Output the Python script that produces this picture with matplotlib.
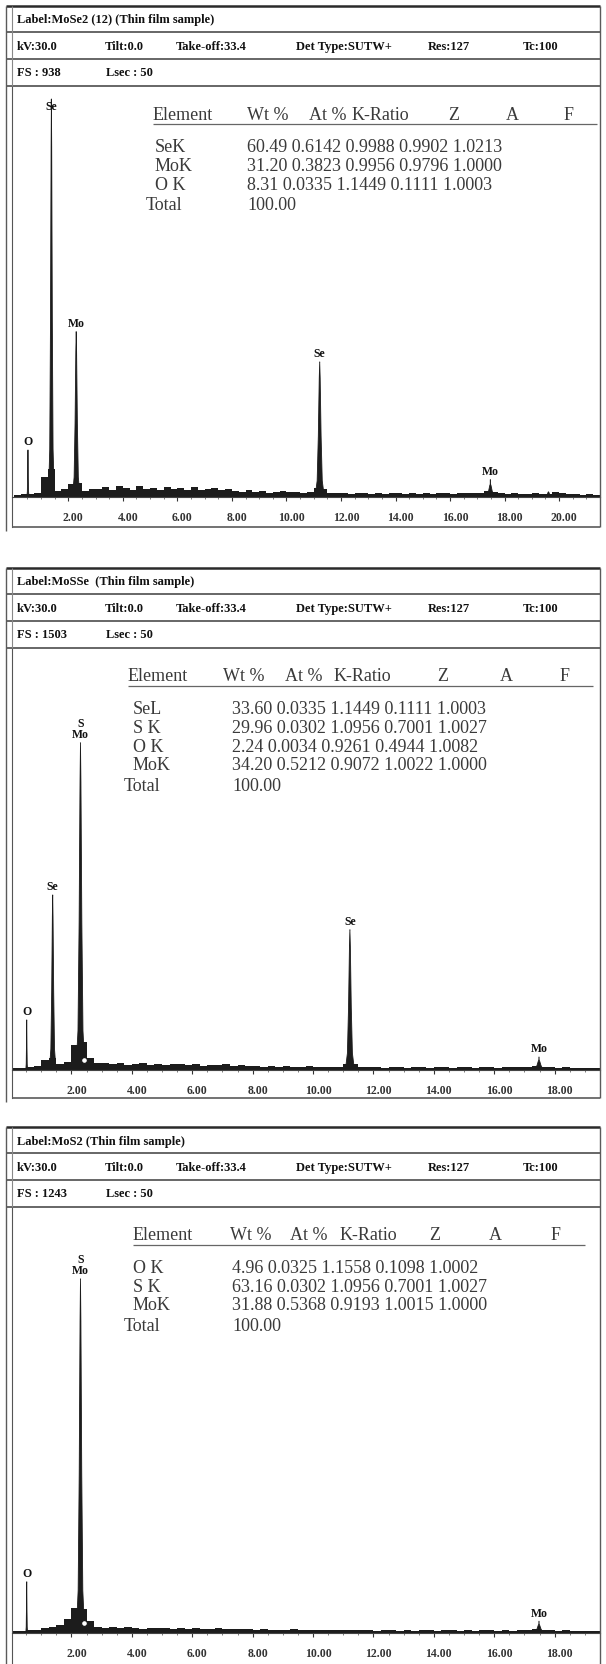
import numpy as np
import matplotlib
matplotlib.use('Agg')
import matplotlib.pyplot as plt
from matplotlib.lines import Line2D
from matplotlib.transforms import ScaledTranslation

W, H = 606, 1665
SERIF = ['Liberation Serif', 'DejaVu Serif']
INK = '#1c1c1c'
RULE = '#5a5a5a'
TABLE_INK = '#3a3a3a'
BIN = 0.25  # keV per background channel group

# acquisition settings shared by all three runs
settings_text = ['kV:30.0', 'Tilt:0.0', 'Take-off:33.4', 'Det Type:SUTW+', 'Res:127', 'Tc:100']
table_header = ['Element', 'Wt %', 'At %', 'K-Ratio', 'Z', 'A', 'F']

# ---------------- MoSe2 ----------------
mose2_title = 'Label:MoSe2 (12) (Thin film sample)'
mose2_fs = 938
mose2_bg = [5, 6, 7, 9, 45, 64, 14, 18, 30, 32, 14, 18,
            18, 22, 16, 24, 20, 17, 25, 19, 21, 15, 23, 18, 20, 16, 22, 17, 19, 21, 15, 18,
            14, 12, 15, 11, 13, 10, 12, 14, 11, 12, 10, 11,
            20, 18,
            9, 8, 10, 7, 9, 8, 6, 9, 7, 8, 10, 7, 8, 6, 9, 7, 8, 9, 6, 8, 9, 10,
            9, 14, 12, 8,
            7, 8, 6, 7, 8, 7, 6, 12, 9, 6, 7, 5, 6, 5]
mose2_peak_kev = [0.52, 1.38, 2.29, 11.22, 17.48, 19.61]
mose2_peak_counts = [107, 908, 377, 308, 30, 12]
mose2_peak_hw = [0.04, 0.11, 0.14, 0.17, 0.22, 0.15]
mose2_lab_text = ['O', 'Se', 'Mo', 'Se', 'Mo']
mose2_lab_kev = [0.52, 1.38, 2.29, 11.22, 17.48]
mose2_el = ['SeK', 'MoK', 'O K']
mose2_wt = [60.49, 31.20, 8.31]
mose2_at = [0.6142, 0.3823, 0.0335]
mose2_kr = [0.9988, 0.9956, 1.1449]
mose2_z = [0.9902, 0.9796, 0.1111]
mose2_a = [1.0213, 1.0000, 1.0003]

# ---------------- MoSSe ----------------
mosse_title = 'Label:MoSSe  (Thin film sample)'
mosse_fs = 1503
mosse_bg = [7, 8, 9, 14, 36, 43, 22, 29, 90, 100, 43, 25,
            24, 20, 26, 18, 22, 25, 19, 21, 17, 23, 20, 18, 21, 16, 19, 17, 20, 15, 18, 16,
            14, 12, 15, 11, 13, 12, 10, 13, 11, 12, 10, 11,
            22, 20,
            10, 9, 11, 8, 10, 9, 8, 10, 9, 8, 11, 9, 8, 10, 9, 8, 10, 9, 8, 9, 10, 9,
            10, 14, 12, 9, 8, 9, 8, 7, 8, 7, 8]
mosse_peak_kev = [0.52, 1.38, 2.30, 11.22, 17.48]
mosse_peak_counts = [178, 623, 1165, 499, 36]
mosse_peak_hw = [0.03, 0.11, 0.15, 0.15, 0.22]
mosse_lab_text = ['O', 'Se', 'S\nMo', 'Se', 'Mo']
mosse_lab_kev = [0.52, 1.38, 2.30, 11.22, 17.48]
mosse_marker_kev = [2.43]
mosse_marker_counts = [34]
mosse_el = ['SeL', 'S K', 'O K', 'MoK']
mosse_wt = [33.60, 29.96, 2.24, 34.20]
mosse_at = [0.0335, 0.0302, 0.0034, 0.5212]
mosse_kr = [1.1449, 1.0956, 0.9261, 0.9072]
mosse_z = [0.1111, 0.7001, 0.4944, 1.0022]
mosse_a = [1.0003, 1.0027, 1.0082, 1.0000]

# ---------------- MoS2 ----------------
mos2_title = 'Label:MoS2 (Thin film sample)'
mos2_fs = 1243
mos2_bg = [6, 7, 8, 10, 15, 17, 22, 40, 72, 70, 35, 18,
           16, 18, 14, 17, 15, 13, 16, 14, 15, 12, 14, 13, 15, 12, 13, 14, 11, 13, 12, 11,
           10, 11, 9, 10, 9, 11, 8, 10, 9, 8, 10, 9,
           9, 8,
           8, 9, 7, 8, 9, 7, 8, 7, 9, 8, 7, 8, 9, 7, 8, 7, 8, 9, 7, 8, 7, 8,
           9, 12, 10, 8, 7, 8, 7, 6, 7, 6, 7]
mos2_peak_kev = [0.52, 2.30, 17.48]
mos2_peak_counts = [149, 1033, 26]
mos2_peak_hw = [0.03, 0.14, 0.22]
mos2_lab_text = ['O', 'S\nMo', 'Mo']
mos2_lab_kev = [0.52, 2.30, 17.48]
mos2_marker_kev = [2.43]
mos2_marker_counts = [30]
mos2_el = ['O K', 'S K', 'MoK']
mos2_wt = [4.96, 63.16, 31.88]
mos2_at = [0.0325, 0.0302, 0.5368]
mos2_kr = [1.1558, 1.0956, 0.9193]
mos2_z = [0.1098, 0.7001, 1.0015]
mos2_a = [1.0002, 1.0027, 1.0000]


def fig_line(fig, x1, y1, x2, y2, lw=1.0, color=RULE):
    fig.add_artist(Line2D([x1 / W, x2 / W], [1 - y1 / H, 1 - y2 / H],
                          lw=lw, color=color, solid_capstyle='butt'))


def fig_text(fig, x, y, s, **kw):
    kw.setdefault('family', SERIF)
    kw.setdefault('va', 'center')
    fig.text(x / W, 1 - y / H, s, **kw)


def draw_panel(fig, top, base, bottom, title, fs, zero_px, px_per_kev, last_tick,
               bg, pk_kev, pk_counts, pk_hw, lab_text, lab_kev, leads,
               el, wt, at, kr, z, a, name_x, val_x, head_x, rule_end,
               marker_kev=None, marker_counts=None):
    right = 600
    r1, r2, fs_line = top + 26, top + 53, top + 80

    # box and header rules
    fig_line(fig, 6, top, right, top, lw=1.8, color='#2a2a2a')
    for y in (r1, r2, fs_line):
        fig_line(fig, 6, y, right, y, lw=1.3)
    fig_line(fig, 6, top, 6, bottom + 4, lw=1.0)
    fig_line(fig, 12, top, 12, fs_line, lw=0.8, color='#888888')
    fig_line(fig, right, top, right, bottom, lw=1.0)
    fig_line(fig, 12, bottom, right, bottom, lw=1.2)

    hdr = dict(fontsize=9, fontweight='bold', color='#111111')
    fig_text(fig, 17, top + 13.5, title, **hdr)
    for s, x in zip(settings_text, [17, 105, 176, 296, 428, 523]):
        fig_text(fig, x, top + 40, s, **hdr)
    fig_text(fig, 17, top + 66.5, f'FS : {fs}', **hdr)
    fig_text(fig, 106, top + 66.5, 'Lsec : 50', **hdr)

    # spectrum axes
    ax = fig.add_axes([12 / W, 1 - bottom / H, (right - 12) / W, (bottom - fs_line) / H])
    ax.patch.set_alpha(0)
    cpp = fs / (base - fs_line)
    ax.set_ylim(-(bottom - base) * cpp, fs)
    ax.set_xlim((12 - zero_px) / px_per_kev, (right - zero_px) / px_per_kev)

    edges = np.arange(len(bg) + 1) * BIN
    ax.stairs(bg, edges, fill=True, color=INK, baseline=0, lw=0)
    for e, h, hw in zip(pk_kev, pk_counts, pk_hw):
        xs = [e - hw, e - 0.55 * hw, e - 0.3 * hw, e - 0.1 * hw, e,
              e + 0.1 * hw, e + 0.3 * hw, e + 0.55 * hw, e + hw]
        ys = [0, 0.12 * h, 0.45 * h, 0.88 * h, h, 0.88 * h, 0.45 * h, 0.12 * h, 0]
        ax.fill(xs, ys, color=INK, lw=0.6)

    for s, e, lead in zip(lab_text, lab_kev, leads):
        h = pk_counts[pk_kev.index(e)]
        ax.annotate(s, xy=(e, h), xytext=(0, lead), textcoords='offset points',
                    ha='center', va='bottom', family=SERIF, fontsize=8.5,
                    fontweight='bold', color='#111111', linespacing=0.95, zorder=6,
                    arrowprops=dict(arrowstyle='-', lw=0.8, color=INK,
                                    shrinkA=0, shrinkB=0))

    if marker_kev:
        ax.scatter(marker_kev, marker_counts, s=18, facecolor='white',
                   edgecolor=INK, lw=0.9, zorder=5)

    for side in ('top', 'right'):
        ax.spines[side].set_visible(False)
    ax.spines['bottom'].set_position(('data', 0))
    ax.spines['bottom'].set_color('#444444')
    ax.spines['left'].set_color('#555555')
    ax.set_yticks([])
    ticks = np.arange(2, last_tick + 1, 2)
    ax.set_xticks(ticks)
    ax.set_xticklabels([f'{t:.2f}' for t in ticks], family=SERIF,
                       fontsize=8.5, fontweight='bold')
    ax.set_xticks(np.arange(0.5, last_tick + 1.6, 0.5), minor=True)
    ax.tick_params(axis='x', which='major', direction='out', length=3, width=0.8,
                   pad=7, colors='#333333')
    ax.tick_params(axis='x', which='minor', direction='out', length=1.5, width=0.6,
                   colors='#666666')
    for lbl in ax.get_xticklabels():
        lbl.set_transform(lbl.get_transform() + ScaledTranslation(0.05, 0, fig.dpi_scale_trans))

    # quantification table
    tbl = dict(fontsize=13, color=TABLE_INK)
    for s, x in zip(table_header, head_x):
        fig_text(fig, x, top + 108, s, **tbl)
    fig_line(fig, head_x[0], top + 118, rule_end, top + 118, lw=0.9, color='#666666')
    y = top + 141
    for name, w_, at_, kr_, z_, a_ in zip(el, wt, at, kr, z, a):
        fig_text(fig, name_x, y, name, **tbl)
        fig_text(fig, val_x, y, f'{w_:.2f} {at_:.4f} {kr_:.4f} {z_:.4f} {a_:.4f}', **tbl)
        y += 18.5
    fig_text(fig, name_x - 9, y + 2.5, 'Total', **tbl)
    fig_text(fig, val_x, y + 2.5, f'{sum(wt):.2f}', **tbl)
    return ax


fig = plt.figure(figsize=(W / 100, H / 100), dpi=100)
fig.patch.set_facecolor('white')

draw_panel(fig, 7, 498, 528, mose2_title, mose2_fs, 13.8, 27.6, 20,
           mose2_bg, mose2_peak_kev, mose2_peak_counts, mose2_peak_hw,
           mose2_lab_text, mose2_lab_kev, [2, -9, 2, 2, 5],
           mose2_el, mose2_wt, mose2_at, mose2_kr, mose2_z, mose2_a,
           155, 247, [153, 247, 309, 352, 448, 506, 564], 597)

draw_panel(fig, 569, 1071, 1099, mosse_title, mosse_fs, 11, 30.4, 18,
           mosse_bg, mosse_peak_kev, mosse_peak_counts, mosse_peak_hw,
           mosse_lab_text, mosse_lab_kev, [2, 2, 2, 2, 4],
           mosse_el, mosse_wt, mosse_at, mosse_kr, mosse_z, mosse_a,
           133, 232, [128, 223, 285, 334, 437, 500, 560], 593,
           mosse_marker_kev, mosse_marker_counts)

draw_panel(fig, 1128, 1634, 1668, mos2_title, mos2_fs, 11, 30.4, 18,
           mos2_bg, mos2_peak_kev, mos2_peak_counts, mos2_peak_hw,
           mos2_lab_text, mos2_lab_kev, [2, 2, 4],
           mos2_el, mos2_wt, mos2_at, mos2_kr, mos2_z, mos2_a,
           133, 232, [133, 230, 290, 340, 429, 489, 551], 585,
           mos2_marker_kev, mos2_marker_counts)

fig.savefig('out.png', dpi=100, facecolor='white')
